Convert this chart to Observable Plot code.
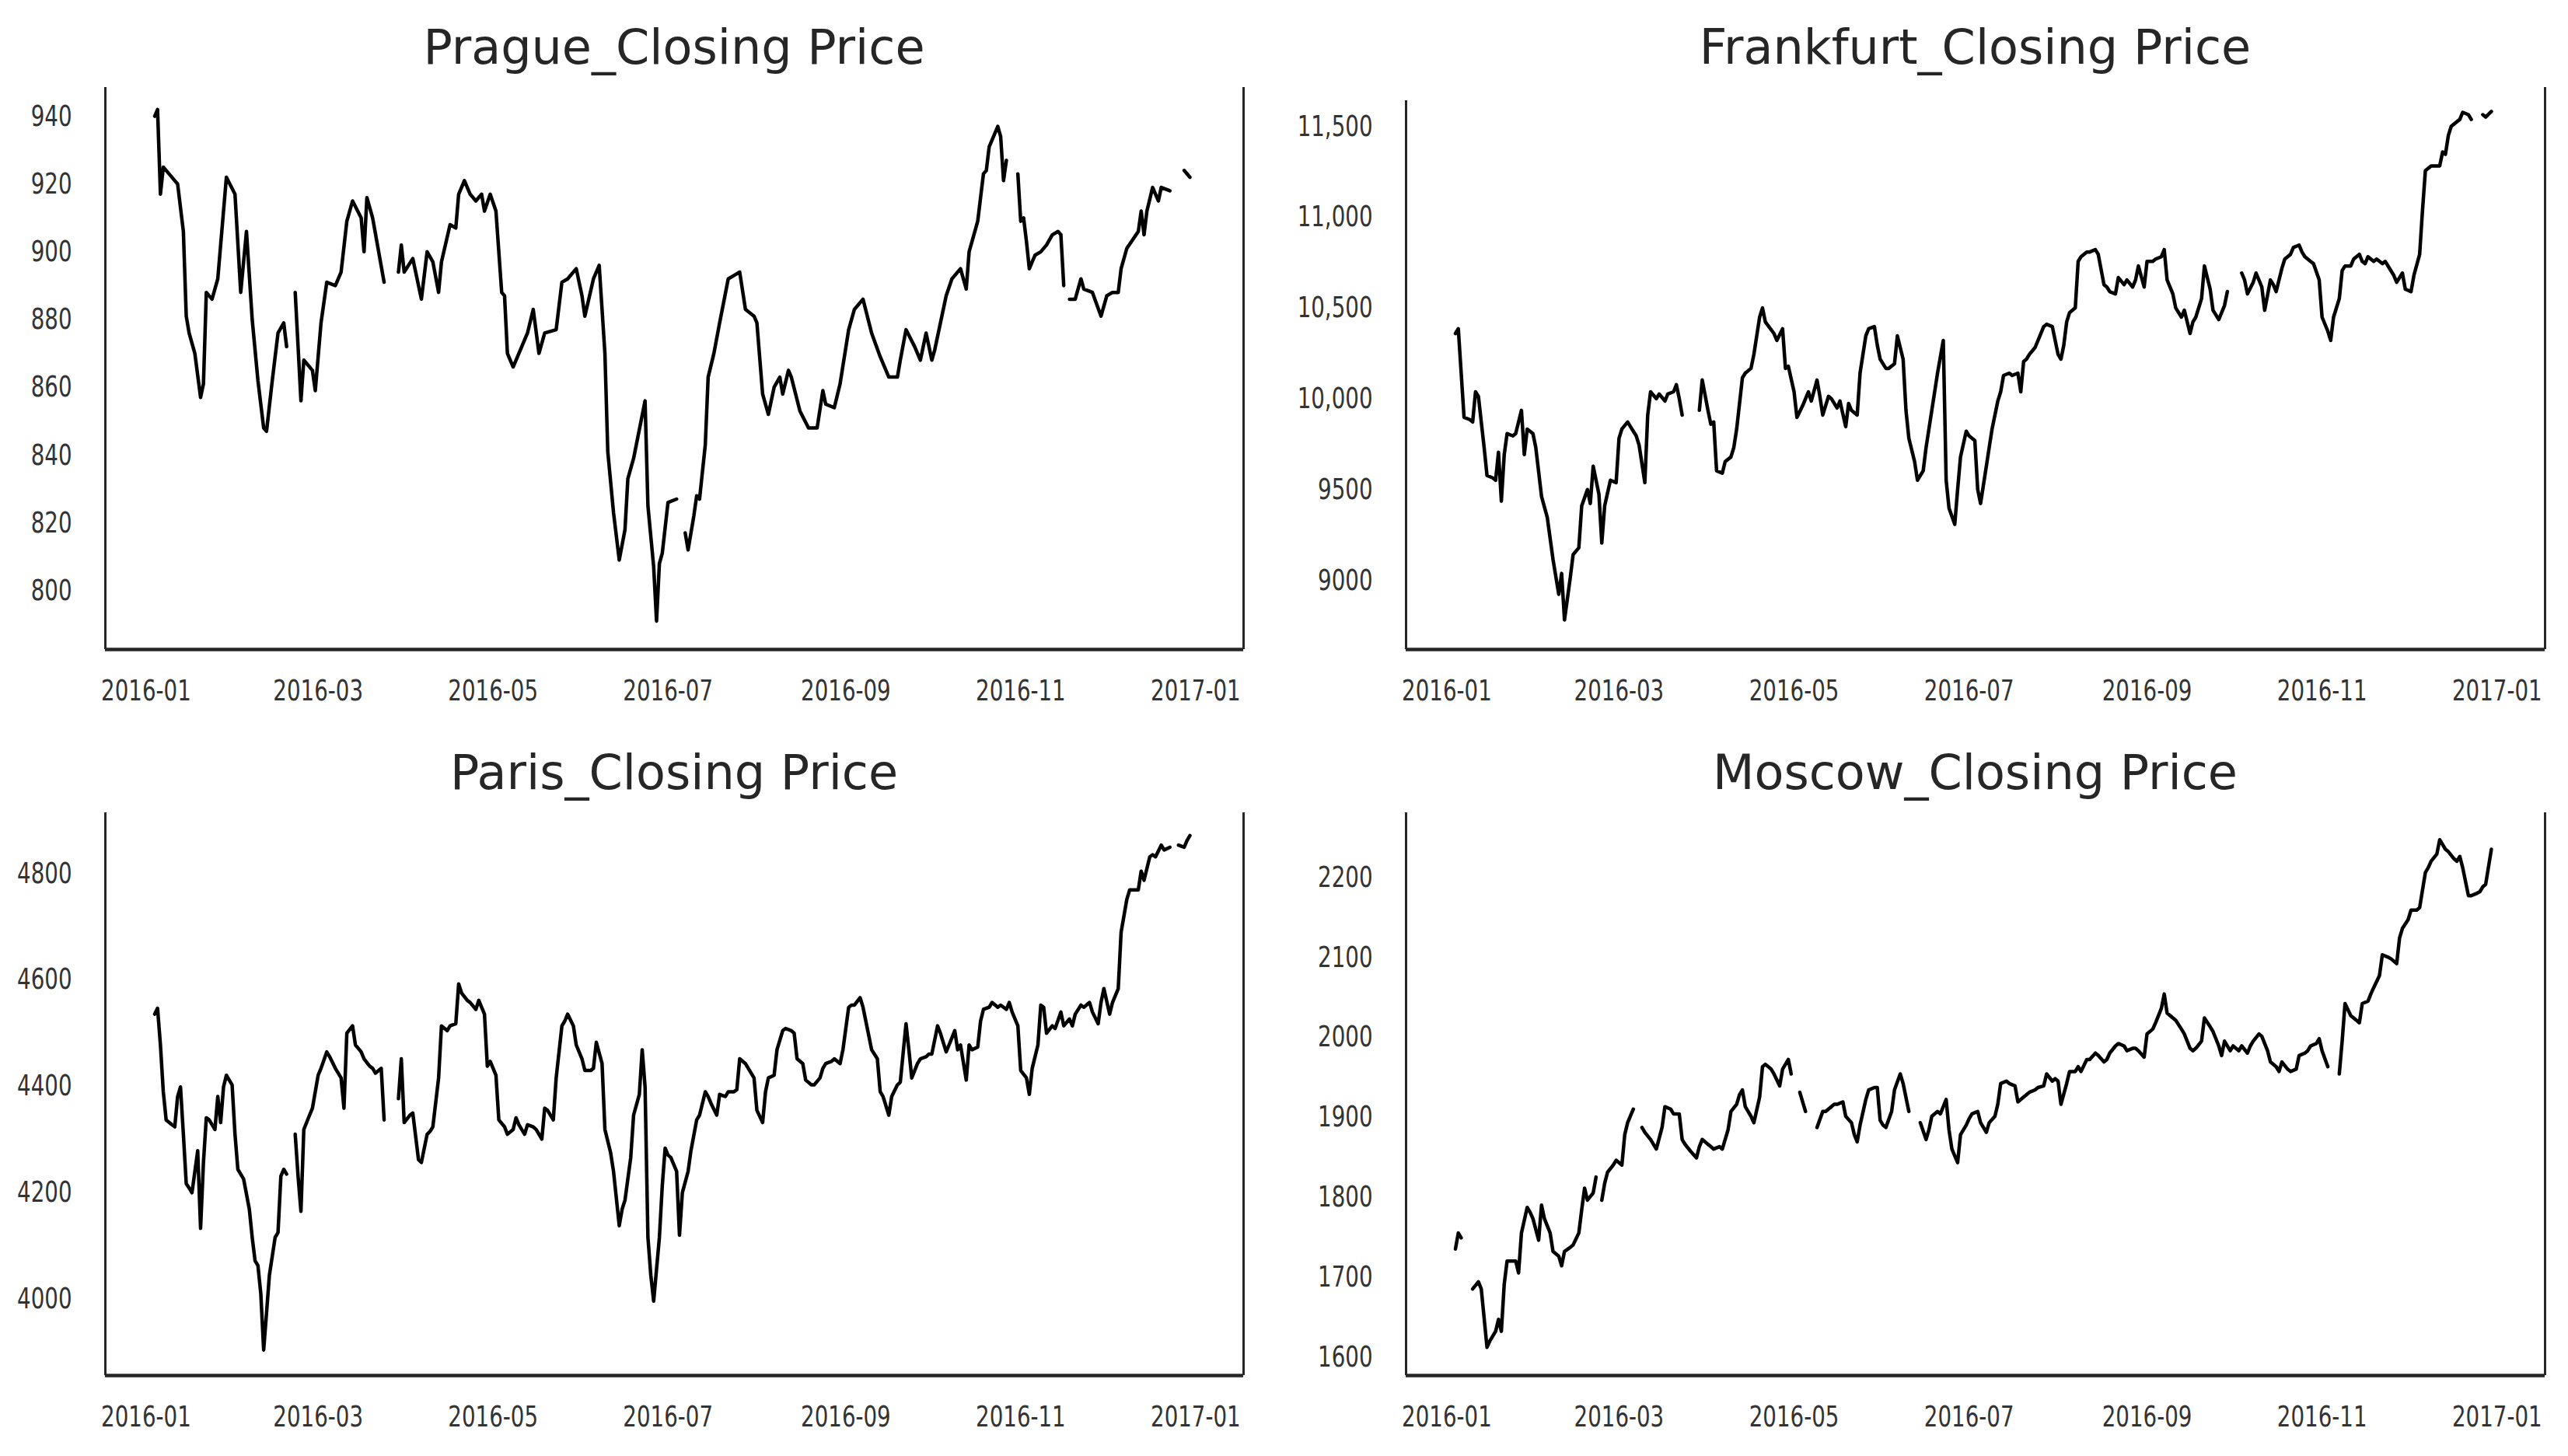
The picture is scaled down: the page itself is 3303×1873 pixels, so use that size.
<!DOCTYPE html>
<html>
<head>
<meta charset="utf-8">
<script src="https://cdn.jsdelivr.net/npm/d3@7"></script>
<script src="https://cdn.jsdelivr.net/npm/@observablehq/plot@0.6"></script>
<style>
  html, body { margin: 0; padding: 0; background: #fff; }
  #chart { position: relative; width: 3303px; height: 1873px; background: #fff; overflow: hidden; }
  .panel { position: absolute; }
  .panel svg { max-width: none; display: block; }
  .title { position: absolute; text-align: center; font-family: "DejaVu Sans", sans-serif; font-size: 62px; line-height: 62px; color: #262626; white-space: nowrap; }
</style>
</head>
<body>
<div id="chart"></div>
<script>
// ---------- DATA (day = days since 2016-01-01; null = no trading / gap) ----------
const pragueDay = [3,4,5,6,8,10,11,13,14,15,17,19,20,21,23,25,28,31,33,35,37,39,40,41,42,44,46,48,49,50,52,54,55,58,59,61,63,66,68,70,72,75,76,77,79,83,85,88,89,90,93,96,98,100,102,103,106,108,109,111,113,115,117,118,120,122,124,125,126,128,130,133,135,137,139,143,145,147,150,152,153,156,158,160,161,163,165,167,168,170,174,175,177,178,179,180,182,185,186,188,189,191,192,193,195,196,198,200,203,205,207,209,212,213,215,217,219,221,222,224,225,228,231,234,236,237,240,242,245,247,250,253,256,259,262,263,265,268,270,272,274,275,279,281,284,286,287,290,292,293,294,297,298,299,300,301,304,305,306,307,308,310,312,314,316,318,319,320,321,322,324,326,327,330,333,335,337,339,340,342,346,347,348,349,351,353,354,357,359,362,364];
const pragueClose = [940,942,917,925,923,921,920,906,881,876,870,857,861,888,886,892,922,917,888,906,880,862,855,848,847,862,876,879,872,null,888,856,868,865,859,879,891,890,894,909,915,910,900,916,910,891,null,894,902,894,898,886,900,897,888,897,908,907,917,921,917,915,917,912,917,912,888,887,870,866,870,876,883,870,876,877,891,892,895,887,881,892,896,870,841,823,809,818,833,839,856,825,807,791,808,811,826,827,null,817,812,822,828,827,843,863,870,879,892,893,894,883,881,879,858,852,860,863,858,865,863,853,848,848,859,855,854,861,877,883,886,876,869,863,863,868,877,872,868,876,868,871,887,892,895,889,900,909,923,924,931,937,934,921,927,null,923,909,910,903,895,899,900,902,905,906,905,890,null,886,886,892,889,888,881,887,888,888,895,901,906,912,905,912,919,915,919,918,null,924,922];

const frankfurtDay = [3,4,5,6,8,9,10,11,13,14,16,17,18,19,20,21,23,24,26,27,28,30,31,33,35,37,39,40,41,43,44,46,47,49,50,51,53,54,55,57,59,60,61,63,64,66,67,69,70,71,73,74,76,77,79,80,81,82,85,88,89,91,92,93,94,96,97,99,100,101,103,104,106,107,109,110,111,114,115,117,118,119,121,122,124,126,127,129,130,131,133,134,136,137,139,140,141,143,144,146,147,149,150,151,153,154,156,157,159,160,161,163,164,166,167,169,170,171,173,174,175,177,178,179,181,182,184,185,186,188,189,190,192,193,194,196,197,199,200,201,202,203,205,207,208,209,211,213,214,215,216,217,219,220,221,223,224,226,227,229,230,231,233,234,236,237,239,240,241,243,244,246,247,249,250,251,253,254,256,257,259,260,261,263,264,266,267,269,270,271,272,274,277,278,279,281,282,284,285,287,288,289,291,292,294,295,297,298,299,301,302,304,305,307,308,309,311,312,313,315,316,318,319,320,321,323,324,326,327,329,330,331,333,334,336,337,339,340,341,343,344,346,347,348,349,350,351,353,354,356,357,359,361,362,364];
const frankfurtClose = [10359,10385,10141,9897,9885,9872,10038,10013,9731,9577,9564,9551,9705,9436,9692,9808,9795,9808,9936,9692,9833,9808,9731,9462,9346,9115,8923,9038,8782,9013,9141,9179,9410,9500,9423,9628,9474,9205,9410,9551,9538,9782,9833,9872,9846,9795,9744,9538,9910,10038,10000,10026,9987,10026,10038,10077,10000,9910,null,9936,10103,9936,9859,9872,9603,9590,9654,9679,9731,9833,10115,10141,10167,10244,10449,10500,10423,10359,10321,10385,10167,10179,10038,9897,9962,10038,9987,10103,10013,9910,10013,10000,9949,9987,9846,9974,9936,9910,10141,10346,10385,10397,10295,10218,10167,10167,10192,10346,10218,9936,9782,9654,9551,9603,9731,9936,10038,10141,10321,9551,9397,9308,9500,9679,9821,9795,9769,9500,9423,9628,9731,9833,9987,10038,10128,10141,10128,10141,10038,10205,10218,10244,10282,10359,10397,10410,10397,10244,10218,10295,10423,10474,10500,10756,10782,10808,10808,10821,10795,10628,10615,10590,10577,10667,10628,10654,10615,10654,10731,10615,10756,10756,10769,10782,10821,10654,10577,10500,10449,10487,10359,10423,10449,10551,10731,10603,10487,10436,10474,10513,10590,null,10692,10654,10577,10641,10692,10615,10487,10654,10628,10590,10718,10769,10795,10833,10846,10808,10782,10756,10744,10654,10449,10372,10321,10449,10551,10705,10731,10731,10769,10795,10756,10744,10782,10756,10769,10744,10756,10705,10679,10641,10692,10603,10590,10679,10795,11038,11256,11282,11282,11282,11359,11346,11449,11500,11513,11538,11577,11564,11538,null,11564,11551,11582];

const parisDay = [3,4,5,6,7,9,10,11,12,13,14,15,16,18,19,20,21,22,24,25,26,27,28,30,31,32,34,36,37,38,39,40,41,42,43,45,46,47,48,49,50,52,53,54,55,57,58,60,61,63,64,66,68,69,70,72,73,75,76,78,79,80,82,83,85,88,89,90,92,93,95,96,98,99,100,102,103,105,106,108,109,110,112,113,115,116,118,119,120,122,123,125,126,128,129,130,132,133,135,136,138,139,140,142,143,145,146,147,149,150,152,153,155,156,157,159,160,162,163,165,166,167,169,170,172,173,174,175,176,177,179,180,181,182,183,185,186,187,189,190,192,193,195,196,197,199,200,202,203,205,206,207,209,210,212,213,215,216,217,219,220,222,223,225,226,227,229,230,232,233,235,236,237,239,240,242,243,245,246,247,249,250,252,253,255,256,257,259,260,262,263,265,266,267,269,270,272,273,274,276,277,279,280,282,283,284,286,287,288,290,291,292,294,295,297,298,300,301,302,304,305,307,308,309,311,312,313,314,316,317,319,320,322,323,324,326,327,329,330,332,333,334,336,337,339,340,342,343,344,346,347,348,350,351,352,354,355,357,359,360,362,363,364];
const parisClose = [4535,4546,4477,4389,4336,4327,4323,4380,4398,4309,4216,4208,4199,4278,4132,4256,4340,4336,4318,4380,4331,4398,4420,4402,4309,4243,4225,4168,4115,4071,4062,4009,3903,3973,4044,4115,4124,4230,4243,4234,null,4309,4230,4164,4318,4345,4358,4420,4433,4464,4455,4433,4415,4358,4499,4513,4477,4464,4451,4437,4433,4424,4433,4336,null,4376,4451,4331,4345,4349,4261,4256,4309,4314,4323,4415,4513,4504,4513,4517,4592,4575,4561,4557,4544,4561,4535,4437,4446,4420,4336,4323,4309,4318,4340,4327,4309,4327,4323,4318,4300,4358,4354,4336,4415,4513,4522,4535,4513,4477,4451,4429,4429,4433,4482,4442,4318,4274,4239,4137,4168,4185,4265,4345,4384,4468,4398,4115,4044,3995,4115,4212,4283,4270,4265,4239,4119,4199,4239,4278,4336,4345,4389,4380,4367,4345,4384,4380,4389,4389,4393,4451,4442,4433,4415,4354,4331,4389,4415,4420,4468,4504,4508,4504,4499,4451,4442,4411,4402,4402,4415,4433,4442,4446,4451,4442,4468,4548,4552,4552,4566,4548,4495,4468,4451,4389,4380,4345,4380,4402,4407,4517,4468,4415,4442,4451,4455,4460,4460,4513,4499,4464,4477,4504,4468,4477,4411,4477,4468,4473,4522,4544,4548,4557,4548,4552,4544,4557,4539,4513,4429,4415,4384,4433,4477,4552,4548,4499,4513,4508,4539,4513,4526,4513,4535,4552,4548,4557,4539,4517,4557,4583,4535,4557,4583,4689,4751,4769,4769,4769,4804,4787,4831,4835,4831,4853,4844,4849,null,4853,4849,4862,4871];

const moscowDay = [3,4,5,7,9,11,12,14,15,17,18,19,20,21,22,24,25,26,28,29,30,32,33,34,36,37,39,40,41,43,44,46,47,48,49,51,52,53,54,55,56,58,59,61,62,63,65,66,68,69,71,73,75,76,78,79,81,82,83,85,87,88,89,91,92,93,95,96,98,99,101,102,103,104,106,107,109,110,111,113,114,116,117,119,120,121,123,125,127,129,131,132,133,135,136,138,139,141,142,143,144,146,147,149,150,151,152,153,155,156,158,159,161,163,165,167,168,169,171,172,174,175,176,178,179,181,182,183,185,186,188,189,191,192,193,195,196,198,199,201,202,203,205,206,208,209,211,212,213,214,216,217,219,220,221,223,224,226,227,229,230,231,233,234,236,237,239,240,241,243,244,246,247,249,250,251,253,254,256,257,259,260,261,263,264,266,267,269,270,271,273,274,276,277,279,280,281,283,284,286,287,289,290,291,293,294,296,297,299,300,301,303,304,305,307,309,311,312,313,315,316,318,319,321,322,323,325,326,328,329,331,332,333,335,336,338,339,341,342,343,345,346,347,348,349,351,352,353,354,356,357,359,360,361,362,364];
const moscowClose = [1735,1755,1749,null,1685,1694,1685,1612,1620,1632,1647,1632,1691,1720,1720,1720,1705,1755,1787,1781,1773,1746,1790,1773,1755,1732,1726,1714,1732,1737,1740,1755,1784,1811,1796,1805,1825,null,1796,1817,1831,1840,1846,1840,1878,1893,1910,null,1887,1881,1872,1860,1887,1913,1910,1904,1904,1872,1866,1857,1849,1863,1872,1866,1863,1860,1863,1860,1884,1907,1916,1928,1934,1913,1901,1893,1925,1963,1966,1960,1954,1939,1960,1972,1954,null,1931,1907,null,1887,1907,1907,1910,1916,1916,1919,1901,1893,1878,1869,1890,1922,1934,1937,1937,1896,1890,1887,1907,1934,1954,1942,1907,null,1893,1872,1884,1901,1907,1904,1922,1884,1860,1843,1878,1890,1898,1904,1907,1893,1881,1893,1901,1916,1942,1945,1942,1939,1919,1925,1928,1931,1934,1937,1939,1954,1945,1948,1945,1916,1942,1957,1957,1963,1957,1972,1972,1980,1977,1969,1972,1980,1989,1992,1989,1983,1986,1986,1983,1975,2004,2010,2018,2036,2054,2030,2024,2021,2010,2004,1986,1983,1986,1995,2024,2013,2007,1989,1977,1995,1983,1989,1983,1989,1980,1989,1995,2004,2001,1983,1969,1963,1957,1969,1960,1957,1960,1977,1980,1983,1989,1992,1998,1983,1963,null,1954,1995,2042,2027,2024,2018,2042,2045,2054,2062,2077,2103,2100,2098,2092,2124,2136,2147,2159,2159,2162,2206,2212,2220,2229,2247,2241,2235,2232,2223,2220,2226,2212,2177,2177,2180,2182,2188,2191,2235];

const titles = ["Prague_Closing Price", "Frankfurt_Closing Price", "Paris_Closing Price", "Moscow_Closing Price"];

const xTickLabels = ["2016-01", "2016-03", "2016-05", "2016-07", "2016-09", "2016-11", "2017-01"];

const pragueTicks = [800, 820, 840, 860, 880, 900, 920, 940];
const pragueTickLabels = ["800", "820", "840", "860", "880", "900", "920", "940"];
const frankfurtTicks = [9000, 9500, 10000, 10500, 11000, 11500];
const frankfurtTickLabels = ["9000", "9500", "10,000", "10,500", "11,000", "11,500"];
const parisTicks = [4000, 4200, 4400, 4600, 4800];
const parisTickLabels = ["4000", "4200", "4400", "4600", "4800"];
const moscowTicks = [1600, 1700, 1800, 1900, 2000, 2100, 2200];
const moscowTickLabels = ["1600", "1700", "1800", "1900", "2000", "2100", "2200"];

// ---------- LAYOUT / STYLE ----------
const xDomain = [new Date("2015-12-17T19:00:00Z"), new Date("2017-01-17T17:00:00Z")];
const tickFont = '"Liberation Sans Narrow", "DejaVu Sans Condensed", sans-serif';
const ink = "#262626";
const tickSquash = 0.81;   // tick labels in the reference are horizontally narrow

const panels = [
  {title: titles[0], day: pragueDay, close: pragueClose, ticks: pragueTicks, labels: pragueTickLabels,
   yDomain: [782.6, 948.5], left: 0, top: 100, width: 1650, mL: 135, mR: 51, mT: 12, mB: 95, leftSpineInset: 0},
  {title: titles[1], day: frankfurtDay, close: frankfurtClose, ticks: frankfurtTicks, labels: frankfurtTickLabels,
   yDomain: [8619, 11714], left: 1650, top: 100, width: 1653, mL: 158, mR: 30, mT: 12, mB: 95, leftSpineInset: 17},
  {title: titles[2], day: parisDay, close: parisClose, ticks: parisTicks, labels: parisTickLabels,
   yDomain: [3855, 4914], left: 0, top: 1033, width: 1650, mL: 135, mR: 51, mT: 12, mB: 94, leftSpineInset: 0},
  {title: titles[3], day: moscowDay, close: moscowClose, ticks: moscowTicks, labels: moscowTickLabels,
   yDomain: [1576.7, 2280.7], left: 1650, top: 1033, width: 1653, mL: 158, mR: 30, mT: 12, mB: 94, leftSpineInset: 0}
];

const chart = document.getElementById("chart");
const xTickDates = xTickLabels.map(s => new Date(s + "-01T00:00:00Z"));
const xLabelByTime = new Map(xTickDates.map((d, i) => [+d, xTickLabels[i]]));

for (const p of panels) {
  const H = 830;
  const rows = p.day.map((d, i) => ({date: new Date(Date.UTC(2016, 0, 1 + d)), close: p.close[i]}));
  const yLabelByValue = new Map(p.ticks.map((t, i) => [t, p.labels[i]]));

  const svg = Plot.plot({
    width: p.width,
    height: H,
    marginLeft: p.mL, marginRight: p.mR, marginTop: p.mT, marginBottom: p.mB,
    style: {fontFamily: tickFont, fontSize: "38px", color: "#333", background: "transparent", overflow: "visible"},
    x: {type: "utc", domain: xDomain},
    y: {type: "linear", domain: p.yDomain},
    marks: [
      Plot.line(rows, {x: "date", y: "close", stroke: "#000", strokeWidth: 4.5, strokeLinejoin: "round"}),
      Plot.ruleX([xDomain[0]], {stroke: ink, strokeWidth: 3, insetTop: p.leftSpineInset}),
      Plot.ruleX([xDomain[1]], {stroke: ink, strokeWidth: 3}),
      Plot.ruleY([p.yDomain[0]], {stroke: ink, strokeWidth: 4.5}),
      Plot.axisX({ticks: xTickDates, tickFormat: d => xLabelByTime.get(+d), tickSize: 0, tickPadding: 39,
                  label: null, fontSize: 38, fontFamily: tickFont, fill: "#333"}),
      Plot.axisY({ticks: p.ticks, tickFormat: d => yLabelByValue.get(d), tickSize: 0, tickPadding: 43,
                  label: null, fontSize: 38, fontFamily: tickFont, fill: "#333"})
    ]
  });

  const div = document.createElement("div");
  div.className = "panel";
  div.style.left = p.left + "px";
  div.style.top = p.top + "px";
  div.style.width = p.width + "px";
  div.style.height = H + "px";
  div.appendChild(svg);
  chart.appendChild(div);

  // narrow the tick labels horizontally, keeping their anchors
  svg.querySelectorAll('g[aria-label="x-axis tick label"] text, g[aria-label="y-axis tick label"] text').forEach(t => {
    const len = t.getComputedTextLength();
    if (len > 0) {
      t.setAttribute("textLength", (len * tickSquash).toFixed(2));
      t.setAttribute("lengthAdjust", "spacingAndGlyphs");
    }
  });

  const frameLeft = p.left + p.mL;
  const frameWidth = p.width - p.mL - p.mR;
  const frameTop = p.top + p.mT;
  const t = document.createElement("div");
  t.className = "title";
  t.textContent = p.title;
  t.style.left = frameLeft + "px";
  t.style.width = frameWidth + "px";
  t.style.top = (frameTop - 82.4) + "px";
  chart.appendChild(t);
}
</script>
</body>
</html>
